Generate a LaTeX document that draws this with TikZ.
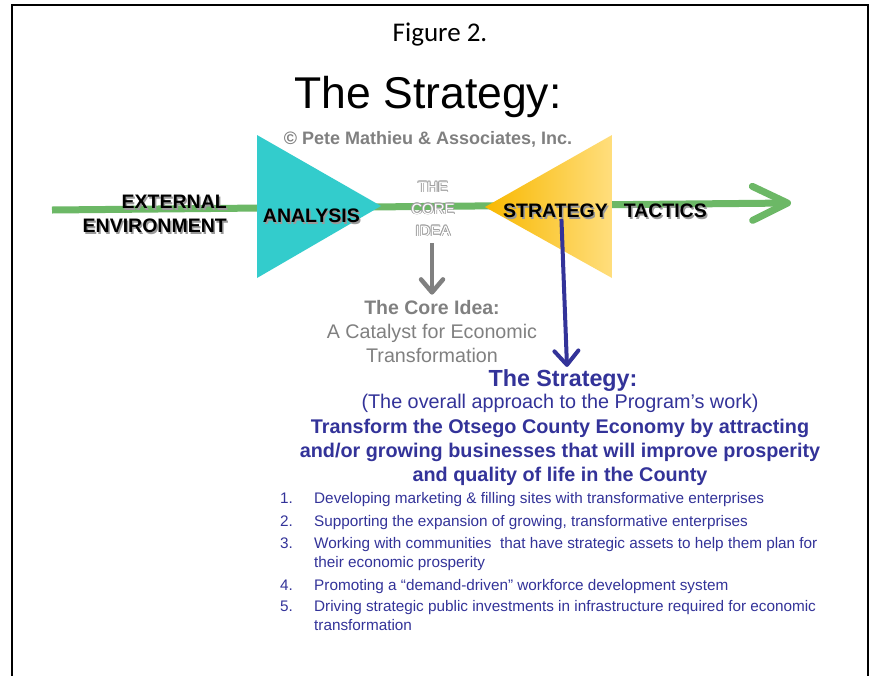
\documentclass[tikz,border=0pt]{standalone}
\usepackage{fontspec}
\setmainfont{Liberation Sans}
\newfontfamily\calibri{Carlito}
\usetikzlibrary{calc,arrows.meta}

\definecolor{stgreen}{RGB}{108,184,102}
\definecolor{stcyan}{RGB}{51,204,204}
\definecolor{stgold}{RGB}{248,184,0}
\definecolor{stpale}{RGB}{255,222,125}
\definecolor{stblue}{RGB}{51,51,153}
\definecolor{stgray}{RGB}{128,128,128}

\tikzset{
  lbl/.style={font=\fontsize{19.5}{24}\selectfont\bfseries, align=right, anchor=east},
  coretxt/.style={font=\fontsize{15}{22}\selectfont, align=center},
  listtxt/.style={font=\fontsize{15.3}{19}\selectfont, text=stblue, anchor=north west},
}

\begin{document}
\begin{tikzpicture}[x=1pt,y=-1pt,every node/.style={inner sep=0pt}]
    \useasboundingbox (0,0) rectangle (872,675);
    \fill[white] (0,0) rectangle (872,675);
    \draw[line width=2pt] (12,676) -- (12,5) -- (868,5) -- (868,676);

    \node (fig) at (440,35) {\calibri\fontsize{27}{30}\selectfont Figure 2.};
    \node (title) at (428,97) {\fontsize{44.5}{50}\selectfont The Strategy:};
    \node[text=stgray] (copy) at (428,139) {\fontsize{18}{22}\selectfont\bfseries \textcopyright{} Pete Mathieu \& Associates, Inc.};

    \coordinate (envstart) at (52,210);
    \coordinate (envend) at (791,203);
    \draw[stgreen, line width=7pt, -{Straight Barb[length=35pt,width=34pt,round]}] (envstart) -- (envend);

    \fill[stcyan] (257,135) -- (257,278) -- (381,206) -- cycle;
    \shade[left color=stgold, right color=stpale] (612,135) -- (612,278) -- (485,207) -- cycle;

    \foreach \n/\x/\y/\t in {ext/227/214/{EXTERNAL\\ENVIRONMENT}, ana/360/216/ANALYSIS, strat/608/211/STRATEGY, tac/707/211/TACTICS}{
        \node[lbl, text=black!40] (\n-sh) at (\x+1.5,\y+1.5) {\t};
        \node[lbl] (\n) at (\x,\y) {\t};
    }

    \foreach \dx/\dy [count=\i] in {-0.8/0, 0.8/0, 0/-0.8, 0/0.8, -0.6/-0.6, 0.6/-0.6, -0.6/0.6, 0.6/0.6}
        \node[coretxt, text=stgray!75] (ring\i) at (433+\dx,209+\dy) {THE\\CORE\\IDEA};
    \node[coretxt, text=white] (coreidea) at (433,209) {THE\\CORE\\IDEA};

    \node[text=stgray, font=\fontsize{19.5}{22}\selectfont\bfseries] (coretitle) at (432,308) {The Core Idea:};
    \node[text=stgray, font=\fontsize{19.7}{24}\selectfont, align=center] (coredesc) at (432,343) {A Catalyst for Economic\\Transformation};

    \node[text=stblue, font=\fontsize{23.3}{26}\selectfont\bfseries] (strathead) at (563,381) {The Strategy:};
    \node[text=stblue, font=\fontsize{19.8}{22}\selectfont] (approach) at (560,403) {(The overall approach to the Program’s work)};
    \node[text=stblue, font=\fontsize{19.8}{24}\selectfont\bfseries, align=center] (goal) at (560,452) {Transform the Otsego County Economy by attracting\\and/or growing businesses that will improve prosperity\\and quality of life in the County};

    \draw[stgray, line width=4.5pt, -{Straight Barb[length=13pt,width=22pt,round]}] ($(coreidea.south)+(-1,7)$) -- ($(coretitle.north)+(0,-6)$);
    \draw[stblue, line width=4pt, -{Straight Barb[length=14pt,width=24pt,round]}] ($(strat.south)+(6,1)$) -- ($(strathead.north)+(4,-3)$);

    \foreach \i/\y/\t in {1/490/{Developing marketing \& filling sites with transformative enterprises}, 2/513/{Supporting the expansion of growing, transformative enterprises}, 3/535/{Working with communities\ \ that have strategic assets to help them plan for\\ & their economic prosperity}, 4/577/{Promoting a “demand-driven” workforce development system}, 5/598/{Driving strategic public investments in infrastructure required for economic\\ & transformation}}
        \node[listtxt] (item\i) at (280,\y) {\begin{tabular}{@{}p{34pt}@{}l@{}}\i. & \t\end{tabular}};
\end{tikzpicture}
\end{document}
